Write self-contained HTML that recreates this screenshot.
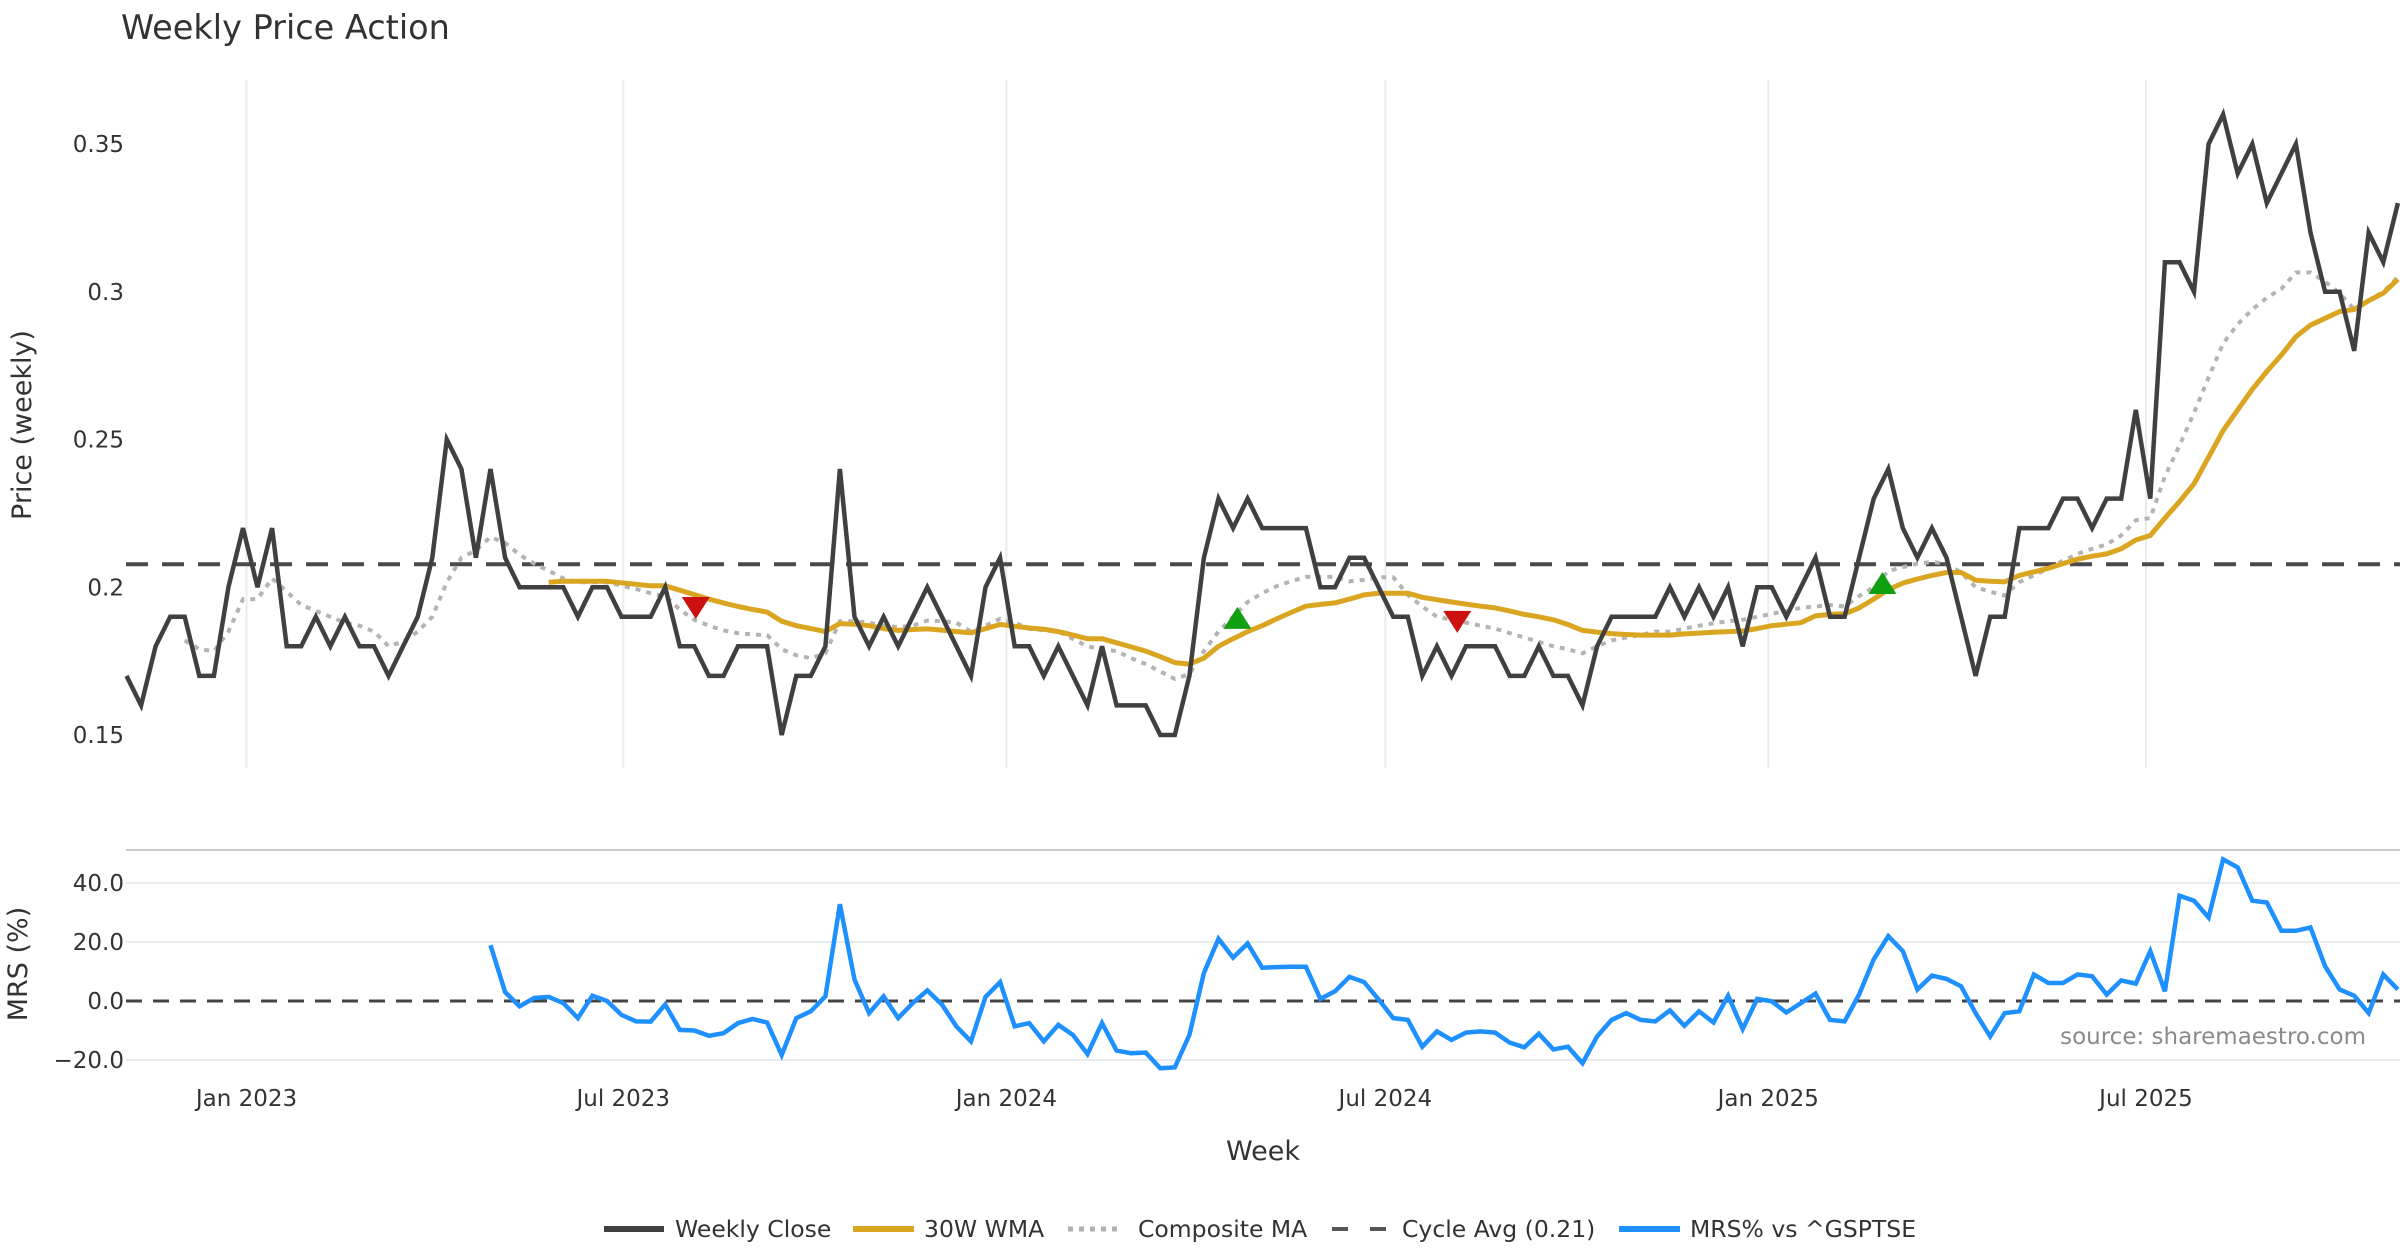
<!DOCTYPE html>
<html><head><meta charset="utf-8"><style>
html,body{margin:0;padding:0;background:#fff;}
svg{display:block;font-family:"DejaVu Sans","Liberation Sans",sans-serif;}
</style></head><body>
<svg id="chart" width="2400" height="1260" viewBox="0 0 2400 1260" xmlns="http://www.w3.org/2000/svg">
<text x="121" y="39" font-size="33.5" fill="#333">Weekly Price Action</text>
<g id="grid"></g><g id="series"></g><g id="axes"></g>
<text transform="translate(31,425) rotate(-90)" text-anchor="middle" font-size="27" fill="#333">Price (weekly)</text>
<text transform="translate(27,964) rotate(-90)" text-anchor="middle" font-size="27" fill="#333">MRS (%)</text>
<text x="1263" y="1160" text-anchor="middle" font-size="27" fill="#333">Week</text>
<text x="2366" y="1044" text-anchor="end" font-size="23" fill="#8a8a8a">source: sharemaestro.com</text>
<g font-size="23.5" fill="#333">
<g><line x1="604" y1="1229" x2="664" y2="1229" stroke="#404040" stroke-width="6"/><text x="675" y="1237">Weekly Close</text></g>
<g><line x1="853" y1="1229" x2="914" y2="1229" stroke="#DAA520" stroke-width="6"/><text x="924" y="1237">30W WMA</text></g>
<g><line x1="1068" y1="1229" x2="1122" y2="1229" stroke="#b0b0b0" stroke-width="5" stroke-dasharray="5 6"/><text x="1138" y="1237">Composite MA</text></g>
<g><line x1="1332" y1="1229" x2="1387" y2="1229" stroke="#555" stroke-width="4" stroke-dasharray="16 22"/><text x="1402" y="1237">Cycle Avg (0.21)</text></g>
<g><line x1="1619" y1="1229" x2="1680" y2="1229" stroke="#1E90FF" stroke-width="6"/><text x="1690" y="1237">MRS% vs ^GSPTSE</text></g>
</g>
</svg>
<script>
const closeVals=[.17,.16,.18,.19,.19,.17,.17,.20,.22,.20,
.22,.18,.18,.19,.18,.19,.18,.18,.17,.18,
.19,.21,.25,.24,.21,.24,.21,.20,.20,.20,
.20,.19,.20,.20,.19,.19,.19,.20,.18,.18,
.17,.17,.18,.18,.18,.15,.17,.17,.18,.24,
.19,.18,.19,.18,.19,.20,.19,.18,.17,.20,
.21,.18,.18,.17,.18,.17,.16,.18,.16,.16,
.16,.15,.15,.17,.21,.23,.22,.23,.22,.22,
.22,.22,.20,.20,.21,.21,.20,.19,.19,.17,
.18,.17,.18,.18,.18,.17,.17,.18,.17,.17,
.16,.18,.19,.19,.19,.19,.20,.19,.20,.19,
.20,.18,.20,.20,.19,.20,.21,.19,.19,.21,
.23,.24,.22,.21,.22,.21,.19,.17,.19,.19,
.22,.22,.22,.23,.23,.22,.23,.23,.26,.23,
.31,.31,.30,.35,.36,.34,.35,.33,.34,.35,
.32,.30,.30,.28,.32,.31,.33];
const wmaStart=29;
const wmaVals=[.2017,.202,.202,.202,.202,.2015,.201,.2005,.2005,.199,.1975,
.196,.1947,.1935,.1925,.1916,.1885,.187,.186,.185,.1877,
.1875,.187,.186,.1854,.1857,.1859,.1855,.185,.1846,.186,
.1874,.1868,.1862,.1858,.185,.1838,.1826,.1826,.1812,.1798,
.1784,.1765,.1745,.174,.176,.180,.1826,.185,.187,.1893,
.1915,.1936,.1942,.1947,.196,.1974,.198,.198,.198,.1966,
.1958,.195,.1943,.1936,.193,.192,.1908,.19,.189,.1874,
.1854,.1848,.1843,.184,.1838,.1838,.1838,.1842,.1845,.1848,
.185,.1852,.186,.187,.1875,.188,.1903,.1908,.191,.193,
.196,.1992,.2014,.2028,.204,.205,.205,.2024,.202,.2018,
.204,.2052,.2064,.208,.2095,.2105,.2113,.213,.216,.2175,
.2234,.229,.235,.244,.253,.26,.267,.273,.2786,.2848,
.2887,.291,.2933,.294,.297,.2995,.3042];
const compStart=4;
const compVals=[.182,.179,.1784,.185,.196,.196,
.203,.1985,.194,.192,.19,.188,.187,.185,.18,.1816,
.185,.19,.2017,.21,.2125,.217,.215,.211,.208,.2056,
.203,.2017,.2017,.2017,.2005,.1994,.198,.197,.1925,.189,
.187,.1854,.1845,.184,.1838,.179,.177,.176,.1776,.1885,
.1885,.188,.187,.1865,.187,.1887,.1885,.188,.185,.187,
.1893,.188,.1859,.1855,.185,.1825,.180,.179,.1784,.176,
.174,.1715,.169,.1706,.1784,.185,.190,.195,.198,.2004,
.202,.2035,.2035,.2035,.202,.2025,.2034,.2034,.1974,.1935,
.19,.189,.188,.187,.186,.1845,.183,.1815,.180,.179,
.1776,.180,.182,.183,.1838,.185,.185,.186,.187,.1878,
.1885,.189,.19,.191,.192,.193,.1935,.194,.1935,.197,
.200,.2055,.2068,.208,.2085,.208,.205,.200,.1985,.1972,
.2017,.204,.2064,.209,.2113,.213,.2145,.2175,.2227,.2234,
.2375,.248,.259,.271,.2825,.289,.294,.298,.301,.3065,
.3065,.3034,.2995,.294,.297,.300,.305];
const mrsStart=25;
const mrsVals=[18.9,3,-1.8,1,1.4,-0.7,-5.8,1.8,0,-4.7,
-6.9,-7,-1.2,-9.8,-10,-11.8,-10.9,-7.5,-6.1,-7.3,
-18.3,-5.8,-3.5,1.6,32.8,7.3,-4.1,1.6,-5.8,-0.7,
3.6,-1.2,-8.6,-13.7,1.4,6.4,-8.6,-7.5,-13.7,-8.1,
-11.5,-18,-7.5,-16.8,-17.7,-17.5,-22.8,-22.5,-11.5,9.5,
21.1,14.7,19.5,11.3,11.5,11.6,11.6,0.7,3.3,8.2,
6.4,0.5,-5.8,-6.4,-15.5,-10.3,-13.2,-10.7,-10.3,-10.7,
-14.1,-15.7,-11.1,-16.4,-15.5,-21.1,-12,-6.4,-4.1,-6.4,
-6.9,-3.2,-8.4,-3.5,-7.3,1.8,-9.5,0.7,-0.1,-3.9,
-0.7,2.5,-6.4,-6.9,2.2,14.1,22,16.9,3.9,8.6,
7.5,5,-4.1,-12,-4.1,-3.5,9,6.1,6.1,9,
8.4,2.2,7,5.9,16.9,3.3,35.7,34,28.3,48,
45.3,34,33.4,23.8,23.8,24.9,11.8,3.9,1.8,-4.1,
9,3.9];
const cycleAvg=0.2078;
const sellIdx=[39.1,91.4];
const sellVals=[0.1933,0.1886];
const buyIdx=[76.3,120.6];
const buyVals=[0.1893,0.2011];
const priceTicks=[0.15,0.2,0.25,0.3,0.35];
const priceTickLabels=["0.15","0.2","0.25","0.3","0.35"];
const mrsTicks=[-20,0,20,40];
const mrsTickLabels=["−20.0","0.0","20.0","40.0"];
const dateTickIdx=[8.24,34.12,60.43,86.46,112.76,138.7];
const dateTickLabels=["Jan 2023","Jul 2023","Jan 2024","Jul 2024","Jan 2025","Jul 2025"];

const NS="http://www.w3.org/2000/svg";
const X0=126.5, DX=14.56;
function xs(i){return X0+i*DX;}
function yp(v){return 144+(0.35-v)*2955;}
function ym(v){return 1001-v*2.95;}
function mk(tag,attrs,parent){const e=document.createElementNS(NS,tag);for(const k in attrs)e.setAttribute(k,attrs[k]);parent.appendChild(e);return e;}
const grid=document.getElementById('grid'),ser=document.getElementById('series'),axes=document.getElementById('axes');

dateTickIdx.forEach((d,k)=>{
  const g=mk('line',{x1:xs(d),x2:xs(d),y1:80,y2:768,stroke:'#e9edf1','stroke-width':2},grid);
  
  
  const t=mk('text',{x:xs(d),y:1106,'text-anchor':'middle','font-size':23,fill:'#333'},axes);
  t.textContent=dateTickLabels[k];
  
  
});
priceTicks.forEach((v,k)=>{
  const t=mk('text',{x:124,y:yp(v)+8,'text-anchor':'end','font-size':23,fill:'#333'},axes);
  t.textContent=priceTickLabels[k];
  
  
});
const sep=mk('line',{x1:126,x2:2400,y1:850,y2:850,stroke:'#cccccc','stroke-width':2},grid);


mrsTicks.forEach((v,k)=>{
  if(v!==0){const l=mk('line',{x1:126,x2:2400,y1:ym(v),y2:ym(v),stroke:'#e8ebef','stroke-width':2},grid);
  
  }
  const t=mk('text',{x:124,y:ym(v)+8,'text-anchor':'end','font-size':23,fill:'#333'},axes);
  t.textContent=mrsTickLabels[k];
  
  
});
const zl=mk('line',{x1:126,x2:2400,y1:ym(0),y2:ym(0),stroke:'#444','stroke-width':3,'stroke-dasharray':'16 11'},ser);



function path(vals,start,yf){let d='';vals.forEach((v,i)=>{d+=(i?'L':'M')+xs(start+i).toFixed(1)+','+yf(v).toFixed(1);});return d;}
const cyc=mk('line',{x1:126,x2:2400,y1:yp(cycleAvg),y2:yp(cycleAvg),stroke:'#4a4a4a','stroke-width':4,'stroke-dasharray':'22 14'},ser);


const pc=mk('path',{d:path(compVals,compStart,yp),fill:'none',stroke:'#b4b4b4','stroke-width':4,'stroke-dasharray':'5 6'},ser);


const pw=mk('path',{d:path(wmaVals,wmaStart,yp),fill:'none',stroke:'#DAA520','stroke-width':5,'stroke-linejoin':'round'},ser);


const pcl=mk('path',{d:path(closeVals,0,yp),fill:'none',stroke:'#404040','stroke-width':4.5,'stroke-linejoin':'miter'},ser);


const pm=mk('path',{d:path(mrsVals,mrsStart,ym),fill:'none',stroke:'#1E90FF','stroke-width':4.5},ser);


sellIdx.forEach((d,k)=>{const x=xs(d),y=yp(sellVals[k]);
  const t=mk('polygon',{points:(x-14)+','+(y-10)+' '+(x+14)+','+(y-10)+' '+x+','+(y+12),fill:'#cc1111'},ser);
  
  });
buyIdx.forEach((d,k)=>{const x=xs(d),y=yp(buyVals[k]);
  const t=mk('polygon',{points:(x-14)+','+(y+10)+' '+(x+14)+','+(y+10)+' '+x+','+(y-12),fill:'#11a011'},ser);
  
  });
</script>
</body></html>
